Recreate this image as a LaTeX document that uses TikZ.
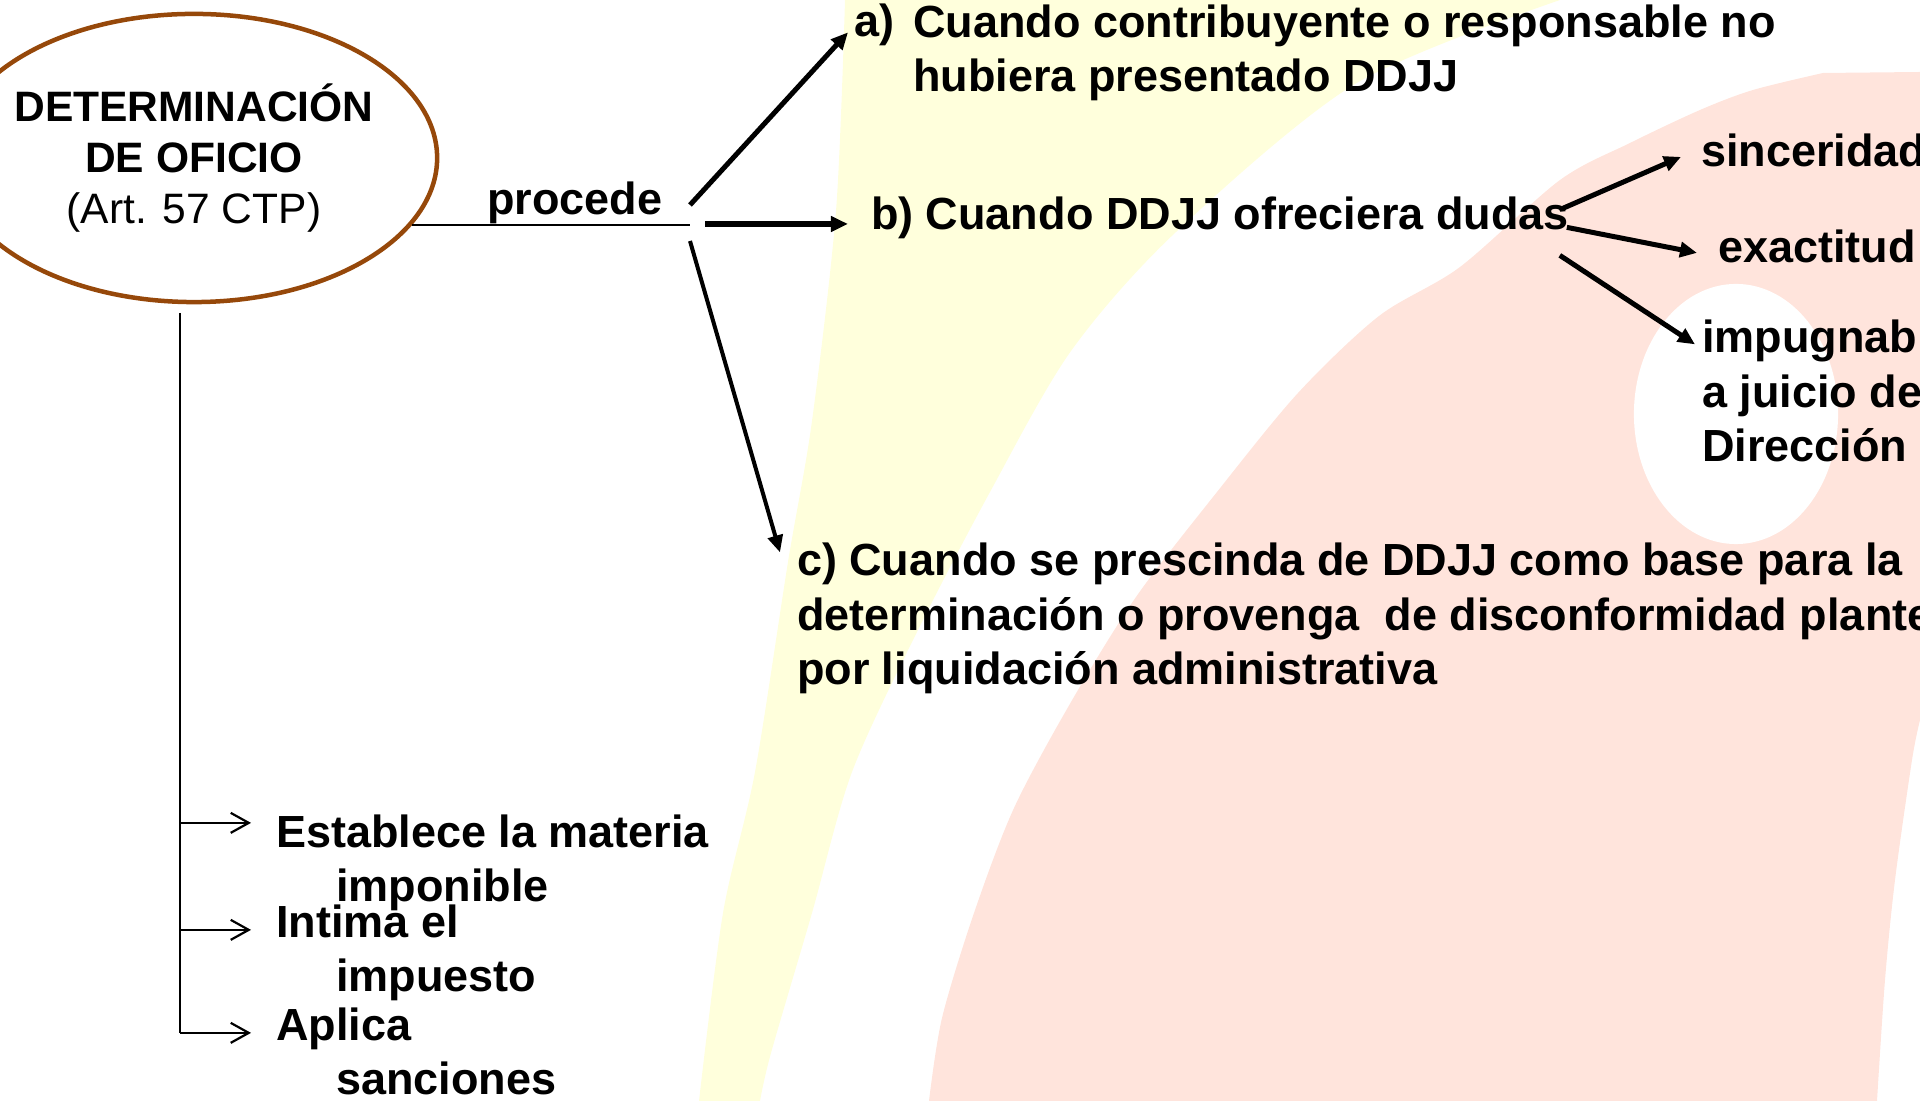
\documentclass[tikz,border=0pt]{standalone}
\usepackage{fontspec}
\setmainfont{Liberation Sans}
\usetikzlibrary{shapes, arrows.meta}

\definecolor{ovalbrown}{RGB}{150,72,10}
\definecolor{paleyellow}{RGB}{255,255,220}
\definecolor{palepink}{RGB}{255,228,220}

\begin{document}
\begin{tikzpicture}[x=0.01cm, y=-0.01cm,
    oval/.style={ellipse, draw=ovalbrown, line width=0.045cm, minimum width=4.86cm,
      minimum height=2.88cm, inner sep=0pt, inner xsep=-0.15cm, align=center,
      font=\fontsize{12.1}{14.6}\selectfont},
    txt/.style={anchor=base west, inner sep=0pt, outer sep=0pt, align=left,
      font=\fontsize{12.8}{15.5}\selectfont\bfseries},
    big/.style={-{Triangle[length=0.17cm,width=0.15cm]}, line width=0.05cm},
    stem/.style={line width=0.022cm},
    branch/.style={stem, -{Straight Barb[length=0.18cm,width=0.2cm]}}]
  \path[use as bounding box] (0,0) rectangle (1920,1101);
  \clip (0,0) rectangle (1920,1101);

  % background
  \fill[paleyellow] plot[smooth] coordinates {(845,0) (836,211) (812,421) (788,562) (755,772) (723,913) (699,1101)}
    -- plot[smooth] coordinates {(760,1101) (771,1053) (812,913) (852,772) (917,632) (990,492) (1071,351) (1176,232) (1355,84) (1560,0)} -- cycle;
  \fill[palepink] (1920,72) -- plot[smooth] coordinates {(1823,73) (1753,90) (1700,110) (1630,143) (1560,180) (1460,267) (1379,316) (1298,393) (1217,492) (1136,597) (1071,702) (1014,808) (974,913) (942,1018) (929,1101)}
    -- plot[smooth] coordinates {(1877,1101) (1885,980) (1895,880) (1912,760) (1920,720)} -- cycle;
  \fill[white] (1736,414) ellipse [x radius=1.02cm, y radius=1.3cm];

  % multi-line nodes sit on their last line
  \node (det) [oval] at (194,158) {\textbf{DETERMINACIÓN}\\\textbf{DE OFICIO}\\(Art. 57 CTP)};
  \node (proc) [txt] at (487,215) {procede};
  \node (alab) [txt] at (854,37) {a)};
  \node (atext) [txt] at (913,92) {Cuando contribuyente o responsable no\\hubiera presentado DDJJ};
  \node (bdoubt) [txt] at (871,230) {b) Cuando DDJJ ofreciera dudas};
  \node (sinc) [txt] at (1701,167) {sinceridad};
  \node (exact) [txt] at (1718,263) {exactitud};
  \node (impug) [txt] at (1702,462) {impugnable\\a juicio de\\Dirección};
  \node (ctext) [txt] at (797,685) {c) Cuando se prescinda de DDJJ como base para la\\determinación o provenga~ de disconformidad planteada\\por liquidación administrativa};
  \node (itmat) [txt] at (276,902) {Establece la materia\\\hspace*{0.6cm}imponible};
  \node (itimp) [txt] at (276,992) {Intima el\\\hspace*{0.6cm}impuesto};
  \node (itsan) [txt] at (276,1095) {Aplica\\\hspace*{0.6cm}sanciones};

  \coordinate (split) at (690,224);
  \coordinate (trunk) at (180,313);
  \draw[stem] (det.-17) -- (det.-17 -| split);
  \draw[big] ([yshift=0.19cm]split) -- ([shift={(-6,7)}]alab.west);
  \draw[big, line width=0.06cm, shorten >=0.23cm] ([xshift=0.15cm]split) -- (split -| bdoubt.west);
  \draw[big, line width=0.04cm] ([yshift=-0.17cm]split) -- ([shift={(-17,9)}]ctext.north west);
  \draw[big] ([shift={(-6,-10)}]bdoubt.east) -- ([shift={(-20,6)}]sinc.west);
  \draw[big] ([shift={(-2,9)}]bdoubt.east) -- ([shift={(-21,6)}]exact.west);
  \draw[big] ([shift={(-9,37)}]bdoubt.east) -- ([shift={(-7,24)}]impug.north west);

  \draw[stem] (trunk) -- ([shift={(-96,25)}]itsan.north west);
  \foreach \nd/\dy in {itmat/8, itimp/25, itsan/25}
    \draw[branch] ([shift={(-96,\dy)}]\nd.north west) -- ([shift={(-25,\dy)}]\nd.north west);
\end{tikzpicture}
\end{document}
